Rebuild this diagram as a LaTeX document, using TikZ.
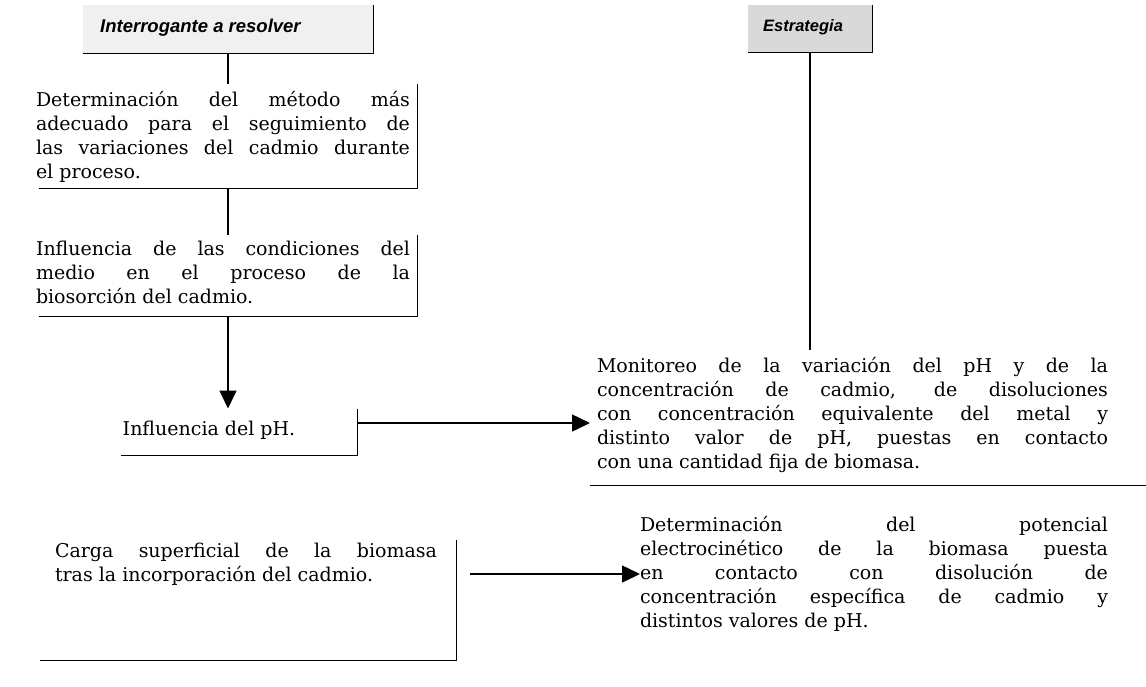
\documentclass[tikz,border=0pt]{standalone}
\usepackage{fontspec}
\setmainfont{DejaVu Serif}
\newfontfamily\titlefont{Liberation Sans}
\usetikzlibrary{arrows.meta,calc}
\begin{document}
\begin{tikzpicture}[x=1pt,y=-1pt,
  frame/.style={inner sep=0pt,outer sep=0pt},
  body/.style={inner sep=0pt,outer sep=0pt,align=justify,font=\fontsize{19}{24}\selectfont},
  head/.style={inner sep=0pt},
  border/.style={line width=1pt},
  edge/.style={line width=1.5pt},
  arr/.style={line width=1.5pt,-{Triangle[length=18pt,width=17pt]}},
]
\useasboundingbox (0,0) rectangle (1146,686);

% title boxes
\node[frame,fill=gray!12,minimum width=290pt,minimum height=48pt] (t1) at (228,29) {};
\node[head,anchor=west,font=\titlefont\bfseries\itshape\fontsize{18.5}{20}\selectfont] (t1txt) at ([xshift=17pt,yshift=1pt]t1.west) {Interrogante a resolver};
\draw[border] (t1.north east) -- (t1.south east) -- (t1.south west);

\node[frame,fill=gray!30,minimum width=124pt,minimum height=47pt] (t2) at (810,28.5) {};
\node[head,anchor=west,font=\titlefont\bfseries\itshape\fontsize{16.5}{20}\selectfont] (t2txt) at ([xshift=15pt,yshift=1pt]t2.west) {Estrategia};
\draw[border] (t2.north east) -- (t2.south east) -- (t2.south west);

% question boxes
\node[frame,minimum width=378pt,minimum height=104pt] (b1) at (228,136) {};
\node[body,anchor=north west,text width=374pt] (b1txt) at (36,91) {Determinación del método más\linebreak adecuado para el seguimiento de\linebreak las variaciones del cadmio durante\linebreak el proceso.};
\draw[border] (b1.north east) -- (b1.south east) -- (b1.south west);

\node[frame,minimum width=378pt,minimum height=81pt] (b2) at (228,275.5) {};
\node[body,anchor=north west,text width=374pt] (b2txt) at (36,241) {Influencia de las condiciones del\linebreak medio en el proceso de la\linebreak biosorción del cadmio.};
\draw[border] (b2.north east) -- (b2.south east) -- (b2.south west);

\node[frame,minimum width=236pt,minimum height=47pt] (b3) at (239,432) {};
\node[body,anchor=center] (b3txt) at (209,430) {Influencia del pH.};
\draw[border] (b3.north east) -- (b3.south east) -- (b3.south west);
\coordinate (p3) at (357,423);

\node[frame,minimum width=556pt,minimum height=135pt] (b4) at (868,417.5) {};
\node[body,anchor=north west,text width=511pt] (b4txt) at (597,357) {Monitoreo de la variación del pH y de la\linebreak concentración de cadmio, de disoluciones\linebreak con concentración equivalente del metal y\linebreak distinto valor de pH, puestas en contacto\linebreak con una cantidad fija de biomasa.};
\draw[border] (b4.south west) -- (b4.south east);

\node[frame,minimum width=416pt,minimum height=120pt] (b5) at (248,600) {};
\node[body,anchor=north west,text width=382pt] (b5txt) at (55,543) {Carga superficial de la biomasa\linebreak tras la incorporación del cadmio.};
\draw[border] (b5.north east) -- (b5.south east) -- (b5.south west);

\node[body,anchor=west,text width=468pt] (b6) at (640,574) {Determinación del potencial\linebreak electrocinético de la biomasa puesta\linebreak en contacto con disolución de\linebreak concentración específica de cadmio y\linebreak distintos valores de pH.};

% connectors
\draw[edge] (t1.south) -- (b1.north);
\draw[edge] (b1.south) -- (b2.north);
\draw[arr] (b2.south) -- (b2.south |- b3.north);
\draw[arr] (p3) -- (p3 -| b4.west);
\draw[edge] (t2.south) -- (t2.south |- b4.north);
\coordinate (c5) at ($(b5.east |- b6.west)+(14,0)$);
\draw[arr] (c5) -- (b6.west);
\end{tikzpicture}
\end{document}
